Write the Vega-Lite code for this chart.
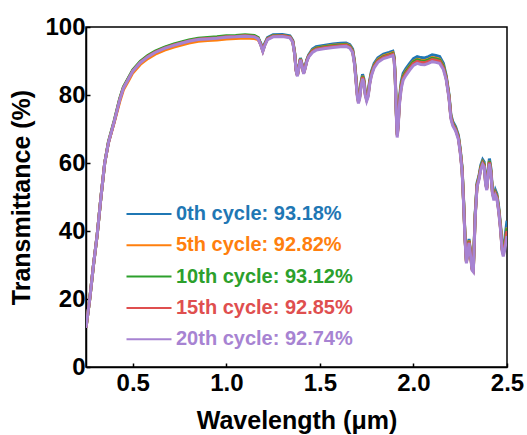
{
  "$schema": "https://vega.github.io/schema/vega-lite/v6.json",
  "width": 421,
  "height": 340,
  "autosize": {"type": "none"},
  "padding": {"left": 86, "top": 27, "right": 20, "bottom": 68},
  "background": "white",
  "config": {
    "font": "Liberation Sans",
    "view": {"stroke": "#000000", "strokeWidth": 1.5},
    "axis": {
      "domainColor": "#000000",
      "domainWidth": 1.5,
      "tickColor": "#000000",
      "tickWidth": 1.5,
      "tickSize": -4,
      "grid": false,
      "labelFont": "Liberation Sans",
      "labelFontWeight": "bold",
      "labelFontSize": 24,
      "labelColor": "#000000",
      "titleFont": "Liberation Sans",
      "titleFontWeight": "bold",
      "titleFontSize": 25,
      "titleColor": "#000000"
    }
  },
  "data": {
    "values": [
      {"w": 0.25, "c0": 11.5, "c5": 11.5, "c10": 11.5, "c15": 11.5, "c20": 11.5},
      {"w": 0.27, "c0": 20, "c5": 20, "c10": 20, "c15": 20, "c20": 20},
      {"w": 0.29, "c0": 30, "c5": 30, "c10": 30, "c15": 30, "c20": 30},
      {"w": 0.31, "c0": 39, "c5": 39, "c10": 39, "c15": 39, "c20": 39},
      {"w": 0.33, "c0": 50, "c5": 50, "c10": 50, "c15": 50, "c20": 50},
      {"w": 0.35, "c0": 60, "c5": 60, "c10": 60, "c15": 60, "c20": 60},
      {"w": 0.37, "c0": 66, "c5": 66, "c10": 66.3, "c15": 66, "c20": 66},
      {"w": 0.40, "c0": 72, "c5": 71.8, "c10": 72.3, "c15": 72, "c20": 72},
      {"w": 0.43, "c0": 78.7, "c5": 78.0, "c10": 78.9, "c15": 78.6, "c20": 78.5},
      {"w": 0.45, "c0": 82.2, "c5": 81.5, "c10": 82.4, "c15": 82.1, "c20": 82},
      {"w": 0.48, "c0": 85.2, "c5": 84.5, "c10": 85.4, "c15": 85.1, "c20": 85},
      {"w": 0.50, "c0": 87.2, "c5": 86.5, "c10": 87.4, "c15": 87.1, "c20": 87},
      {"w": 0.54, "c0": 89.7, "c5": 89.0, "c10": 89.9, "c15": 89.6, "c20": 89.5},
      {"w": 0.58, "c0": 91.4, "c5": 90.7, "c10": 91.6, "c15": 91.3, "c20": 91.2},
      {"w": 0.62, "c0": 92.7, "c5": 92.0, "c10": 92.9, "c15": 92.6, "c20": 92.5},
      {"w": 0.67, "c0": 93.9, "c5": 93.2, "c10": 94.1, "c15": 93.8, "c20": 93.7},
      {"w": 0.72, "c0": 94.8, "c5": 94.1, "c10": 95.0, "c15": 94.7, "c20": 94.6},
      {"w": 0.76, "c0": 95.4, "c5": 94.7, "c10": 95.6, "c15": 95.3, "c20": 95.2},
      {"w": 0.80, "c0": 96.0, "c5": 95.3, "c10": 96.2, "c15": 95.9, "c20": 95.8},
      {"w": 0.85, "c0": 96.5, "c5": 95.8, "c10": 96.7, "c15": 96.4, "c20": 96.3},
      {"w": 0.90, "c0": 96.7, "c5": 96.0, "c10": 96.9, "c15": 96.6, "c20": 96.5},
      {"w": 0.95, "c0": 96.9, "c5": 96.2, "c10": 97.1, "c15": 96.8, "c20": 96.7},
      {"w": 1.00, "c0": 97.2, "c5": 96.5, "c10": 97.4, "c15": 97.1, "c20": 97.0},
      {"w": 1.05, "c0": 97.3, "c5": 96.6, "c10": 97.5, "c15": 97.2, "c20": 97.1},
      {"w": 1.10, "c0": 97.5, "c5": 96.8, "c10": 97.7, "c15": 97.4, "c20": 97.3},
      {"w": 1.15, "c0": 97.3, "c5": 96.6, "c10": 97.5, "c15": 97.2, "c20": 97.1},
      {"w": 1.17, "c0": 96.8, "c5": 96.3, "c10": 96.9, "c15": 96.6, "c20": 96.5},
      {"w": 1.185, "c0": 95.1, "c5": 94.8, "c10": 94.8, "c15": 94.7, "c20": 94.5},
      {"w": 1.195, "c0": 93.4, "c5": 93.1, "c10": 93.1, "c15": 93.0, "c20": 92.8},
      {"w": 1.205, "c0": 95.1, "c5": 94.8, "c10": 94.8, "c15": 94.7, "c20": 94.5},
      {"w": 1.22, "c0": 96.9, "c5": 96.6, "c10": 96.6, "c15": 96.5, "c20": 96.3},
      {"w": 1.25, "c0": 97.7, "c5": 97.4, "c10": 97.4, "c15": 97.3, "c20": 97.1},
      {"w": 1.30, "c0": 97.8, "c5": 97.5, "c10": 97.5, "c15": 97.4, "c20": 97.2},
      {"w": 1.34, "c0": 97.4, "c5": 97.1, "c10": 97.1, "c15": 97.0, "c20": 96.8},
      {"w": 1.355, "c0": 96.1, "c5": 95.8, "c10": 95.8, "c15": 95.7, "c20": 95.5},
      {"w": 1.365, "c0": 92.6, "c5": 92.3, "c10": 92.3, "c15": 92.2, "c20": 92},
      {"w": 1.373, "c0": 87.6, "c5": 87.3, "c10": 87.3, "c15": 87.2, "c20": 87},
      {"w": 1.38, "c0": 86.1, "c5": 85.8, "c10": 85.8, "c15": 85.7, "c20": 85.5},
      {"w": 1.388, "c0": 88.6, "c5": 88.3, "c10": 88.3, "c15": 88.2, "c20": 88},
      {"w": 1.396, "c0": 90.9, "c5": 90.6, "c10": 90.6, "c15": 90.5, "c20": 90.3},
      {"w": 1.405, "c0": 89.1, "c5": 88.8, "c10": 88.8, "c15": 88.7, "c20": 88.5},
      {"w": 1.413, "c0": 86.8, "c5": 86.5, "c10": 86.5, "c15": 86.4, "c20": 86.2},
      {"w": 1.42, "c0": 88.1, "c5": 87.8, "c10": 87.8, "c15": 87.7, "c20": 87.5},
      {"w": 1.43, "c0": 90.4, "c5": 90.1, "c10": 90.1, "c15": 90.0, "c20": 89.8},
      {"w": 1.44, "c0": 91.8, "c5": 91.5, "c10": 91.5, "c15": 91.4, "c20": 91.2},
      {"w": 1.46, "c0": 93.5, "c5": 93.1, "c10": 93.0, "c15": 92.8, "c20": 92.5},
      {"w": 1.48, "c0": 94.2, "c5": 93.8, "c10": 93.7, "c15": 93.5, "c20": 93.2},
      {"w": 1.52, "c0": 94.6, "c5": 94.2, "c10": 94.1, "c15": 93.9, "c20": 93.6},
      {"w": 1.57, "c0": 95.0, "c5": 94.6, "c10": 94.5, "c15": 94.3, "c20": 94.0},
      {"w": 1.61, "c0": 95.2, "c5": 94.8, "c10": 94.7, "c15": 94.5, "c20": 94.2},
      {"w": 1.64, "c0": 95.3, "c5": 94.9, "c10": 94.8, "c15": 94.6, "c20": 94.3},
      {"w": 1.66, "c0": 94.8, "c5": 94.4, "c10": 94.3, "c15": 94.1, "c20": 93.8},
      {"w": 1.675, "c0": 93.5, "c5": 93.1, "c10": 93.0, "c15": 92.8, "c20": 92.5},
      {"w": 1.685, "c0": 90.0, "c5": 89.6, "c10": 89.5, "c15": 89.3, "c20": 89},
      {"w": 1.693, "c0": 85.3, "c5": 84.8, "c10": 84.6, "c15": 84.4, "c20": 84},
      {"w": 1.70, "c0": 80.8, "c5": 80.3, "c10": 80.1, "c15": 79.9, "c20": 79.5},
      {"w": 1.706, "c0": 78.8, "c5": 78.3, "c10": 78.1, "c15": 77.9, "c20": 77.5},
      {"w": 1.713, "c0": 80.3, "c5": 79.8, "c10": 79.6, "c15": 79.4, "c20": 79},
      {"w": 1.72, "c0": 83.8, "c5": 83.3, "c10": 83.1, "c15": 82.9, "c20": 82.5},
      {"w": 1.728, "c0": 86.1, "c5": 85.6, "c10": 85.4, "c15": 85.2, "c20": 84.8},
      {"w": 1.735, "c0": 84.8, "c5": 84.3, "c10": 84.1, "c15": 83.9, "c20": 83.5},
      {"w": 1.742, "c0": 81.3, "c5": 80.8, "c10": 80.6, "c15": 80.4, "c20": 80},
      {"w": 1.75, "c0": 79.5, "c5": 79.0, "c10": 78.8, "c15": 78.6, "c20": 78.2},
      {"w": 1.758, "c0": 80.8, "c5": 80.3, "c10": 80.1, "c15": 79.9, "c20": 79.5},
      {"w": 1.766, "c0": 84.3, "c5": 83.8, "c10": 83.6, "c15": 83.4, "c20": 83},
      {"w": 1.775, "c0": 86.9, "c5": 86.4, "c10": 86.2, "c15": 86.0, "c20": 85.6},
      {"w": 1.79, "c0": 89.3, "c5": 88.8, "c10": 88.6, "c15": 88.4, "c20": 88},
      {"w": 1.81, "c0": 90.9, "c5": 90.4, "c10": 90.2, "c15": 90.0, "c20": 89.6},
      {"w": 1.84, "c0": 92.0, "c5": 91.5, "c10": 91.3, "c15": 91.1, "c20": 90.7},
      {"w": 1.87, "c0": 92.5, "c5": 92.0, "c10": 91.8, "c15": 91.6, "c20": 91.2},
      {"w": 1.89, "c0": 92.9, "c5": 92.4, "c10": 92.2, "c15": 92.0, "c20": 91.6},
      {"w": 1.897, "c0": 91.3, "c5": 90.8, "c10": 90.6, "c15": 90.4, "c20": 90},
      {"w": 1.903, "c0": 85.3, "c5": 84.8, "c10": 84.6, "c15": 84.4, "c20": 84},
      {"w": 1.908, "c0": 76.0, "c5": 75.5, "c10": 75.3, "c15": 75.0, "c20": 74.5},
      {"w": 1.913, "c0": 69.0, "c5": 68.5, "c10": 68.3, "c15": 68.0, "c20": 67.5},
      {"w": 1.918, "c0": 71.5, "c5": 71.0, "c10": 70.8, "c15": 70.5, "c20": 70},
      {"w": 1.925, "c0": 79.0, "c5": 78.2, "c10": 78.0, "c15": 77.6, "c20": 77},
      {"w": 1.935, "c0": 84.0, "c5": 83.2, "c10": 83.0, "c15": 82.6, "c20": 82},
      {"w": 1.945, "c0": 86.4, "c5": 85.6, "c10": 85.4, "c15": 85.0, "c20": 84.4},
      {"w": 1.96, "c0": 87.8, "c5": 87.0, "c10": 86.8, "c15": 86.4, "c20": 85.8},
      {"w": 1.98, "c0": 89.3, "c5": 88.5, "c10": 88.3, "c15": 87.9, "c20": 87.3},
      {"w": 2.00, "c0": 90.7, "c5": 89.9, "c10": 89.7, "c15": 89.3, "c20": 88.7},
      {"w": 2.02, "c0": 91.3, "c5": 90.5, "c10": 90.3, "c15": 89.9, "c20": 89.3},
      {"w": 2.04, "c0": 91.0, "c5": 90.2, "c10": 90.0, "c15": 89.6, "c20": 89},
      {"w": 2.06, "c0": 90.9, "c5": 90.1, "c10": 89.9, "c15": 89.5, "c20": 88.9},
      {"w": 2.08, "c0": 91.3, "c5": 90.5, "c10": 90.3, "c15": 89.9, "c20": 89.3},
      {"w": 2.10, "c0": 91.8, "c5": 91.0, "c10": 90.8, "c15": 90.4, "c20": 89.8},
      {"w": 2.12, "c0": 91.6, "c5": 90.8, "c10": 90.6, "c15": 90.2, "c20": 89.6},
      {"w": 2.14, "c0": 91.3, "c5": 90.5, "c10": 90.3, "c15": 89.9, "c20": 89.3},
      {"w": 2.16, "c0": 89.3, "c5": 88.6, "c10": 88.4, "c15": 88.0, "c20": 87.5},
      {"w": 2.175, "c0": 85.7, "c5": 85.2, "c10": 85.1, "c15": 84.9, "c20": 84.5},
      {"w": 2.19, "c0": 80.2, "c5": 79.7, "c10": 79.6, "c15": 79.4, "c20": 79},
      {"w": 2.20, "c0": 74.2, "c5": 73.7, "c10": 73.6, "c15": 73.4, "c20": 73},
      {"w": 2.21, "c0": 72.2, "c5": 71.7, "c10": 71.6, "c15": 71.4, "c20": 71},
      {"w": 2.225, "c0": 70.7, "c5": 70.2, "c10": 70.1, "c15": 69.9, "c20": 69.5},
      {"w": 2.24, "c0": 68.2, "c5": 67.7, "c10": 67.6, "c15": 67.4, "c20": 67},
      {"w": 2.25, "c0": 64.2, "c5": 63.7, "c10": 63.6, "c15": 63.4, "c20": 63},
      {"w": 2.26, "c0": 58.7, "c5": 58.2, "c10": 58.1, "c15": 57.9, "c20": 57.5},
      {"w": 2.268, "c0": 49.2, "c5": 48.7, "c10": 48.6, "c15": 48.4, "c20": 48},
      {"w": 2.276, "c0": 38.2, "c5": 37.7, "c10": 37.6, "c15": 37.4, "c20": 37},
      {"w": 2.283, "c0": 31.5, "c5": 31.1, "c10": 31.0, "c15": 30.8, "c20": 30.5},
      {"w": 2.29, "c0": 34.0, "c5": 33.6, "c10": 33.5, "c15": 33.3, "c20": 33},
      {"w": 2.297, "c0": 37.7, "c5": 37.2, "c10": 37.1, "c15": 36.9, "c20": 36.5},
      {"w": 2.305, "c0": 34.0, "c5": 33.6, "c10": 33.5, "c15": 33.3, "c20": 33},
      {"w": 2.313, "c0": 29.5, "c5": 29.1, "c10": 29.0, "c15": 28.8, "c20": 28.5},
      {"w": 2.32, "c0": 29.0, "c5": 28.6, "c10": 28.5, "c15": 28.3, "c20": 28},
      {"w": 2.33, "c0": 45.2, "c5": 44.7, "c10": 44.6, "c15": 44.4, "c20": 44},
      {"w": 2.34, "c0": 54.2, "c5": 53.7, "c10": 53.6, "c15": 53.4, "c20": 53},
      {"w": 2.35, "c0": 56.2, "c5": 55.7, "c10": 55.6, "c15": 55.4, "c20": 55},
      {"w": 2.36, "c0": 59.4, "c5": 58.8, "c10": 58.7, "c15": 58.4, "c20": 58},
      {"w": 2.37, "c0": 61.0, "c5": 60.3, "c10": 60.2, "c15": 59.9, "c20": 59.5},
      {"w": 2.378, "c0": 60.3, "c5": 59.6, "c10": 59.5, "c15": 59.2, "c20": 58.8},
      {"w": 2.386, "c0": 54.8, "c5": 54.2, "c10": 54.1, "c15": 53.9, "c20": 53.5},
      {"w": 2.392, "c0": 53.2, "c5": 52.7, "c10": 52.6, "c15": 52.4, "c20": 52},
      {"w": 2.40, "c0": 58.4, "c5": 57.7, "c10": 57.6, "c15": 57.4, "c20": 57},
      {"w": 2.406, "c0": 61.3, "c5": 60.6, "c10": 60.5, "c15": 60.2, "c20": 59.8},
      {"w": 2.414, "c0": 58.4, "c5": 57.7, "c10": 57.6, "c15": 57.4, "c20": 57},
      {"w": 2.422, "c0": 52.2, "c5": 51.7, "c10": 51.6, "c15": 51.4, "c20": 51},
      {"w": 2.43, "c0": 50.2, "c5": 49.7, "c10": 49.6, "c15": 49.4, "c20": 49},
      {"w": 2.438, "c0": 52.0, "c5": 51.3, "c10": 51.2, "c15": 50.9, "c20": 50.5},
      {"w": 2.446, "c0": 50.9, "c5": 50.3, "c10": 50.2, "c15": 49.9, "c20": 49.5},
      {"w": 2.456, "c0": 46.9, "c5": 46.3, "c10": 46.2, "c15": 45.9, "c20": 45.5},
      {"w": 2.466, "c0": 41.4, "c5": 40.8, "c10": 40.7, "c15": 40.4, "c20": 40},
      {"w": 2.474, "c0": 35.4, "c5": 34.8, "c10": 34.7, "c15": 34.4, "c20": 34},
      {"w": 2.48, "c0": 34.3, "c5": 33.5, "c10": 33.4, "c15": 33.1, "c20": 32.5},
      {"w": 2.488, "c0": 37.5, "c5": 36.3, "c10": 36.1, "c15": 35.5, "c20": 34.5},
      {"w": 2.5, "c0": 43.0, "c5": 41.0, "c10": 40.8, "c15": 40.0, "c20": 38.5}
    ]
  },
  "transform": [
    {"fold": ["c0", "c5", "c10", "c15", "c20"], "as": ["key", "T"]},
    {
      "lookup": "key",
      "from": {
        "data": {
          "values": [
            {"key": "c0", "cycle": "0th cycle: 93.18%"},
            {"key": "c5", "cycle": "5th cycle: 92.82%"},
            {"key": "c10", "cycle": "10th cycle: 93.12%"},
            {"key": "c15", "cycle": "15th cycle: 92.85%"},
            {"key": "c20", "cycle": "20th cycle: 92.74%"}
          ]
        },
        "key": "key",
        "fields": ["cycle"]
      }
    }
  ],
  "mark": {"type": "line", "strokeWidth": 3, "clip": true},
  "encoding": {
    "x": {
      "field": "w",
      "type": "quantitative",
      "title": "Wavelength (μm)",
      "scale": {"domain": [0.25, 2.5], "nice": false, "zero": false},
      "axis": {
        "values": [0.5, 1.0, 1.5, 2.0, 2.5],
        "format": ".1f",
        "labelPadding": 8,
        "titlePadding": 13,
        "labelFlush": false
      }
    },
    "y": {
      "field": "T",
      "type": "quantitative",
      "title": "Transmittance (%)",
      "scale": {"domain": [0, 100], "nice": false},
      "axis": {
        "values": [0, 20, 40, 60, 80, 100],
        "labelPadding": 5,
        "titlePadding": 10,
        "labelFlush": false
      }
    },
    "color": {
      "field": "cycle",
      "type": "nominal",
      "scale": {
        "domain": ["0th cycle: 93.18%", "5th cycle: 92.82%", "10th cycle: 93.12%", "15th cycle: 92.85%", "20th cycle: 92.74%"],
        "range": ["#1f77b4", "#ff7f0e", "#2ca02c", "#df4f4f", "#a783d2"]
      },
      "legend": {
        "title": null,
        "orient": "none",
        "legendX": 53,
        "legendY": 177,
        "symbolType": "M-3,0H3",
        "symbolSize": 225,
        "symbolStrokeWidth": 2,
        "labelFont": "Liberation Sans",
        "labelFontWeight": "bold",
        "labelFontSize": 20,
        "labelOffset": 17,
        "labelLimit": 300,
        "rowPadding": 11.3,
        "labelColor": {"expr": "scale('color', datum.value)"}
      }
    }
  }
}
